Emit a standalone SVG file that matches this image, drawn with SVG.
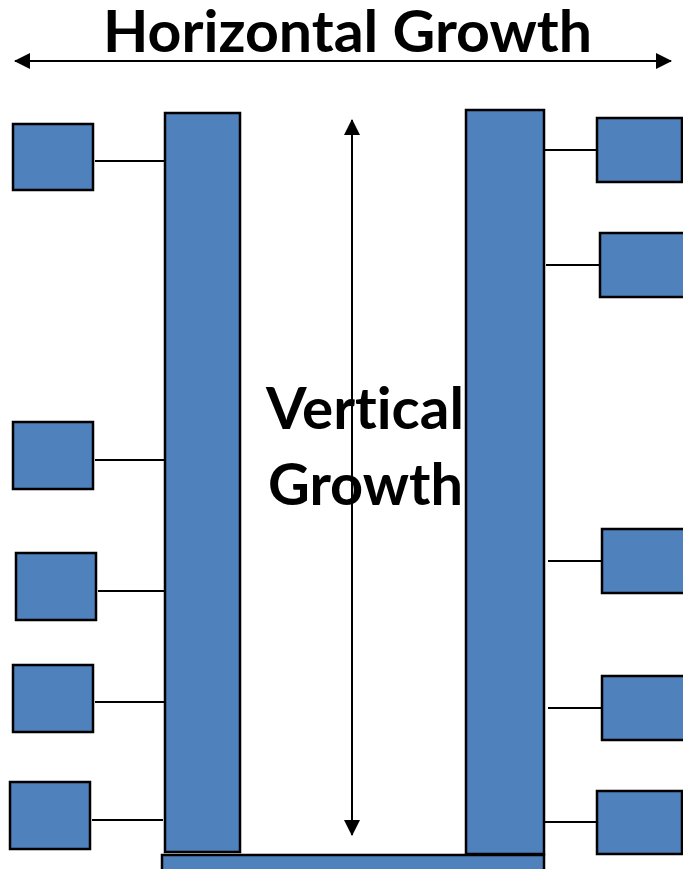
<svg xmlns="http://www.w3.org/2000/svg" width="683" height="869" viewBox="0 0 683 869">
  <style>
    .blk { fill: #4F81BD; stroke: #000; stroke-width: 2.5; }
    .link { stroke: #000; stroke-width: 2; fill: none; }
    .axis { stroke: #000; stroke-width: 2; fill: none; }
    .title { font-family: "Lato", "Liberation Sans", sans-serif; font-weight: bold; font-size: 57px; fill: #000; font-variant-ligatures: none; }
  </style>
  <defs>
    <marker id="tip" viewBox="0 0 16 16" refX="15" refY="8" markerWidth="16" markerHeight="16" markerUnits="userSpaceOnUse" orient="auto-start-reverse">
      <path d="M0,0 L16,8 L0,16 Z" fill="#000"/>
    </marker>
  </defs>

  <rect width="683" height="869" fill="#fff"/>

  <!-- growth axes -->
  <g id="axes">
    <line class="axis" x1="15" y1="61" x2="671" y2="61" marker-start="url(#tip)" marker-end="url(#tip)"/>
    <line class="axis" x1="352" y1="120" x2="352" y2="835" marker-start="url(#tip)" marker-end="url(#tip)"/>
  </g>

  <!-- connectors between side blocks and columns -->
  <g id="connectors">
    <line class="link" x1="95" y1="161" x2="165" y2="161"/>
    <line class="link" x1="95" y1="460" x2="165" y2="460"/>
    <line class="link" x1="98" y1="591" x2="169" y2="591"/>
    <line class="link" x1="95" y1="702" x2="165" y2="702"/>
    <line class="link" x1="92" y1="820" x2="163" y2="820"/>
    <line class="link" x1="544" y1="150" x2="596" y2="150"/>
    <line class="link" x1="546" y1="265" x2="599" y2="265"/>
    <line class="link" x1="548" y1="561" x2="602" y2="561"/>
    <line class="link" x1="548" y1="708" x2="602" y2="708"/>
    <line class="link" x1="544" y1="822" x2="597" y2="822"/>
  </g>

  <!-- columns and base -->
  <g id="base"><rect class="blk" x="162" y="855" width="382" height="30"/></g>
  <g id="col-left"><rect class="blk" x="165" y="113" width="75" height="739"/></g>
  <g id="col-right"><rect class="blk" x="466" y="110" width="78" height="744"/></g>

  <!-- left side blocks -->
  <g id="l1"><rect class="blk" x="13" y="124" width="80" height="66"/></g>
  <g id="l2"><rect class="blk" x="13" y="422" width="80" height="67"/></g>
  <g id="l3"><rect class="blk" x="16" y="553" width="80" height="67"/></g>
  <g id="l4"><rect class="blk" x="13" y="665" width="80" height="67"/></g>
  <g id="l5"><rect class="blk" x="10" y="782" width="80" height="67"/></g>

  <!-- right side blocks -->
  <g id="r1"><rect class="blk" x="597" y="118" width="85" height="64"/></g>
  <g id="r2"><rect class="blk" x="600" y="233" width="95" height="64"/></g>
  <g id="r3"><rect class="blk" x="602" y="529" width="95" height="64"/></g>
  <g id="r4"><rect class="blk" x="602" y="676" width="95" height="64"/></g>
  <g id="r5"><rect class="blk" x="597" y="791" width="85" height="63"/></g>

  <!-- labels -->
  <g id="labels">
    <text class="title" x="103" y="52" textLength="489" lengthAdjust="spacingAndGlyphs">Horizontal Growth</text>
    <text class="title" x="266" y="429" textLength="198" lengthAdjust="spacingAndGlyphs">Vertical</text>
    <text class="title" x="268" y="505" textLength="195" lengthAdjust="spacingAndGlyphs">Growth</text>
  </g>
</svg>
